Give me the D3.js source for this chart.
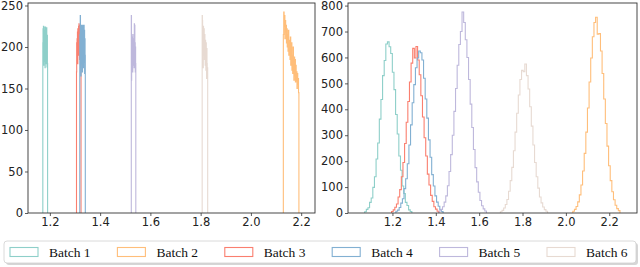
<!DOCTYPE html>
<html>
<head>
<meta charset="utf-8">
<script src="https://cdn.jsdelivr.net/npm/d3@7"></script>
<style>
  html, body { margin: 0; padding: 0; background: #fff; }
  svg { display: block; }
</style>
</head>
<body>
<svg id="chart" width="640" height="267"></svg>
<script>
// ---------------- DATA ----------------
const batches = ["Batch 1", "Batch 2", "Batch 3", "Batch 4", "Batch 5", "Batch 6"];
const colors = ["#8ECFC9", "#FFBE7A", "#FA7F6F", "#82B0D2", "#BEB8DC", "#E7DAD2"];
const drawOrder = [0, 1, 2, 3, 4, 5];

// Left panel: narrow histograms (bin start, bin end, counts)
const leftStart = [1.172, 2.129, 1.306, 1.319, 1.524, 1.806];
const leftEnd   = [1.191, 2.191, 1.324, 1.341, 1.542, 1.828];
const leftB1 = [205, 222, 190, 225, 178, 215, 224, 196, 183, 220, 210, 175, 218, 224, 188, 205, 221, 180, 212, 223, 192, 176, 214, 180];
const leftB2 = [215, 242, 225, 238, 210, 232, 218, 226, 205, 222, 200, 215, 195, 220, 190, 208, 200, 185, 212, 178, 195, 205, 172, 190, 168, 200, 175, 160, 188, 165, 185, 158, 178, 160, 170, 150, 168, 155, 162, 145];
const leftB3 = [170, 205, 185, 210, 195, 218, 180, 222, 200, 215, 190, 225, 205, 228, 198, 220, 185, 212, 226, 195, 208, 190, 218, 200];
const leftB4 = [215, 175, 238, 200, 226, 165, 220, 190, 226, 180, 225, 170, 222, 205, 226, 175, 218, 195, 226, 182, 220, 168, 210, 190];
const leftB5 = [238, 160, 205, 175, 212, 185, 200, 170, 215, 180, 195, 178, 210, 185, 202, 175, 228, 190, 226, 180, 205, 170, 200, 180];
const leftB6 = [238, 232, 215, 200, 175, 225, 210, 190, 222, 205, 185, 215, 200, 178, 208, 190, 172, 205, 185, 162, 198, 180, 170, 175];
const leftCounts = [leftB1, leftB2, leftB3, leftB4, leftB5, leftB6];

// Right panel: wider histograms (bin start, bin width, counts)
const rightStart = [1.072, 2.032, 1.196, 1.216, 1.416, 1.698];
const rightBinWidth = 0.0075;
const rightB1 = [5, 14, 20, 41, 58, 99, 140, 208, 270, 362, 438, 530, 588, 652, 660, 641, 615, 543, 476, 380, 305, 220, 165, 104, 75, 41, 29, 12, 6];
const rightB2 = [7, 14, 25, 43, 70, 108, 162, 230, 312, 405, 505, 598, 680, 735, 755, 690, 692, 625, 538, 440, 345, 258, 182, 125, 82, 51, 30, 17, 9];
const rightB3 = [6, 12, 22, 35, 62, 90, 140, 195, 268, 350, 430, 505, 578, 635, 598, 642, 590, 533, 452, 370, 290, 220, 150, 108, 68, 45, 24, 15, 7];
const rightB4 = [7, 11, 21, 38, 55, 94, 132, 190, 262, 340, 425, 495, 560, 598, 625, 618, 590, 520, 440, 366, 282, 215, 148, 104, 66, 42, 26, 13, 6];
const rightB5 = [8, 14, 24, 42, 66, 105, 160, 225, 300, 392, 480, 570, 650, 700, 775, 735, 668, 600, 515, 420, 330, 245, 175, 120, 80, 48, 28, 16, 8];
const rightB6 = [5, 10, 19, 33, 52, 84, 125, 176, 240, 312, 385, 455, 515, 550, 545, 575, 530, 478, 410, 335, 262, 195, 140, 96, 62, 39, 23, 13, 7];
const rightCounts = [rightB1, rightB2, rightB3, rightB4, rightB5, rightB6];

// Axis ticks
const xTicks = [1.2, 1.4, 1.6, 1.8, 2.0, 2.2];
const leftYTicks = [0, 50, 100, 150, 200, 250];
const rightYTicks = [0, 100, 200, 300, 400, 500, 600, 700, 800];
const leftXDomain = [1.113, 2.255];
const leftYDomain = [0, 253];
const rightXDomain = [0.995, 2.328];
const rightYDomain = [0, 810];

// ---------------- DRAW ----------------
const svg = d3.select("#chart");
const tickFont = "DejaVu Sans, sans-serif";
const tickSize = 11.5;

function panel(x0, x1, y0, y1, xDomain, yDomain, yTicks, seriesFn) {
  const g = svg.append("g");
  const x = d3.scaleLinear().domain(xDomain).range([x0, x1]);
  const y = d3.scaleLinear().domain(yDomain).range([y1, y0]);

  const clipId = "clip" + Math.round(x0);
  svg.append("clipPath").attr("id", clipId)
    .append("rect").attr("x", x0).attr("y", y0).attr("width", x1 - x0).attr("height", y1 - y0);

  const plot = g.append("g").attr("clip-path", `url(#${clipId})`);
  const line = d3.line().x(d => x(d[0])).y(d => y(d[1])).curve(d3.curveStepAfter);

  drawOrder.forEach(i => {
    const { edges, counts } = seriesFn(i);
    const pts = [[edges[0], 0]];
    counts.forEach((c, k) => pts.push([edges[k], c]));
    pts.push([edges[edges.length - 1], counts[counts.length - 1]]);
    pts.push([edges[edges.length - 1], 0]);
    plot.append("path")
      .attr("d", line(pts))
      .attr("fill", "none")
      .attr("stroke", colors[i])
      .attr("stroke-width", 1.1);
  });

  const xAxis = d3.axisBottom(x).tickValues(xTicks).tickFormat(d3.format(".1f")).tickSize(3).tickPadding(2);
  const yAxis = d3.axisLeft(y).tickValues(yTicks).tickFormat(d3.format("d")).tickSize(3).tickPadding(2);

  const gx = g.append("g").attr("transform", `translate(0,${y1})`).call(xAxis);
  const gy = g.append("g").attr("transform", `translate(${x0},0)`).call(yAxis);
  [gx, gy].forEach(a => {
    a.select(".domain").remove();
    a.selectAll("line").attr("stroke", "#333").attr("stroke-width", 0.8);
    a.selectAll("text").attr("font-family", tickFont).attr("font-size", tickSize).attr("fill", "#222");
  });

  g.append("rect")
    .attr("x", x0).attr("y", y0).attr("width", x1 - x0).attr("height", y1 - y0)
    .attr("fill", "none").attr("stroke", "#333").attr("stroke-width", 0.9);
}

panel(28, 315, 3, 213, leftXDomain, leftYDomain, leftYTicks, i => {
  const n = leftCounts[i].length;
  const xs = d3.scaleLinear().domain([0, n]).range([leftStart[i], leftEnd[i]]);
  return { edges: d3.range(n + 1).map(xs), counts: leftCounts[i] };
});

panel(348, 637, 3, 213, rightXDomain, rightYDomain, rightYTicks, i => {
  const n = rightCounts[i].length;
  const edges = d3.range(n + 1).map(k => rightStart[i] + k * rightBinWidth);
  return { edges, counts: rightCounts[i] };
});

// ---------------- LEGEND ----------------
const leg = svg.append("g");
const lx0 = 4, lx1 = 636, ly0 = 241, ly1 = 263;
leg.append("rect")
  .attr("x", lx0 + 2).attr("y", ly0 + 2).attr("width", lx1 - lx0).attr("height", ly1 - ly0)
  .attr("rx", 3).attr("fill", "#bbb").attr("opacity", 0.6);
leg.append("rect")
  .attr("x", lx0).attr("y", ly0).attr("width", lx1 - lx0).attr("height", ly1 - ly0)
  .attr("rx", 3).attr("fill", "#fff").attr("stroke", "#d0d0d0").attr("stroke-width", 0.8);

const legX = d3.scaleLinear().domain([0, 5]).range([10, 547]);
batches.forEach((b, i) => {
  const gx = legX(i);
  leg.append("rect")
    .attr("x", gx).attr("y", 247.5).attr("width", 28).attr("height", 9)
    .attr("fill", "none").attr("stroke", colors[i]).attr("stroke-width", 1.1);
  leg.append("text")
    .attr("x", gx + 39).attr("y", 256.5)
    .attr("font-family", "Liberation Serif, Times New Roman, serif")
    .attr("font-size", 13.5).attr("fill", "#111")
    .text(b);
});
</script>
</body>
</html>
